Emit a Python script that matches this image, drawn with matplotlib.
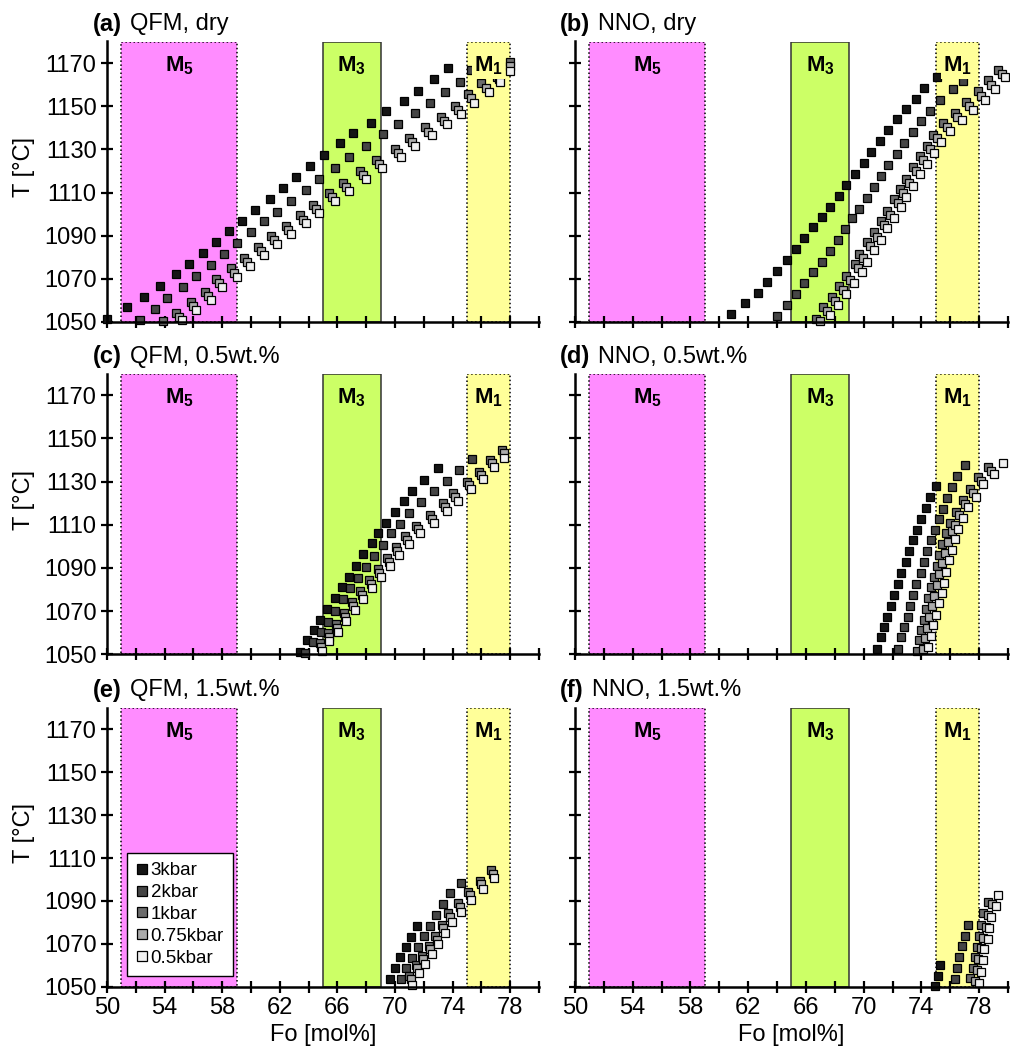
import matplotlib
matplotlib.use("Agg")
import matplotlib.pyplot as plt
from matplotlib.lines import Line2D
from matplotlib.ticker import MultipleLocator

plt.rcParams['font.family'] = ['Liberation Sans', 'DejaVu Sans']
plt.rcParams['mathtext.fontset'] = 'custom'
plt.rcParams['mathtext.rm'] = 'Liberation Sans'
plt.rcParams['mathtext.bf'] = 'Liberation Sans:bold'

# ---- data: Fo [mol%] and T [C] ----
pressures = ['3kbar', '2kbar', '1kbar', '0.75kbar', '0.5kbar']
fills = ['#151515', '#454545', '#6c6c6c', '#ababab', '#f0f0f0']

# (a) QFM, dry
a_fo_3 = [50.0, 51.4, 52.6, 53.7, 54.8, 55.7, 56.7, 57.6, 58.5, 59.4, 60.3, 61.3, 62.2, 63.1, 64.1, 65.1, 66.2, 67.1, 68.3, 69.4, 70.6, 71.6, 72.7, 73.7]
a_t_3 = [1051.2, 1057.0, 1061.8, 1066.6, 1072.2, 1076.9, 1082.0, 1087.3, 1092.4, 1097.0, 1101.7, 1107.1, 1112.1, 1117.2, 1122.2, 1127.6, 1132.8, 1137.4, 1142.4, 1147.8, 1152.5, 1157.1, 1162.4, 1167.6]
a_fo_2 = [52.3, 53.3, 54.2, 55.3, 56.2, 57.2, 58.1, 59.0, 60.0, 60.9, 61.8, 62.8, 63.8, 64.7, 65.8, 66.8, 68.0, 69.2, 70.2, 71.4, 72.4, 73.5, 74.5, 75.3]
a_t_2 = [1050.8, 1055.9, 1060.9, 1066.0, 1071.3, 1076.4, 1081.5, 1086.5, 1091.9, 1096.6, 1101.2, 1105.9, 1111.3, 1116.1, 1121.4, 1126.6, 1131.7, 1137.0, 1141.8, 1146.7, 1151.4, 1156.4, 1161.4, 1166.9]
a_fo_1 = [53.9, 54.8, 55.8, 56.8, 57.6, 58.6, 59.5, 60.5, 61.4, 62.4, 63.4, 64.3, 65.4, 66.4, 67.6, 68.7, 70.0, 71.0, 72.1, 73.2, 74.2, 75.1, 76.0, 77.1, 78.0]
a_t_1 = [1050.5, 1054.3, 1059.3, 1064.0, 1069.9, 1074.8, 1079.5, 1084.6, 1090.0, 1094.7, 1099.4, 1104.3, 1109.8, 1114.4, 1119.9, 1125.0, 1130.4, 1135.4, 1140.3, 1144.8, 1150.2, 1155.5, 1160.7, 1163.5, 1170.7]
a_fo_075 = [55.0, 56.0, 57.0, 57.8, 58.8, 59.7, 60.7, 61.6, 62.6, 63.6, 64.5, 65.6, 66.6, 67.8, 68.9, 70.2, 71.2, 72.3, 73.4, 74.4, 75.3, 76.3, 77.2, 78.0]
a_t_075 = [1052.4, 1057.4, 1062.1, 1068.0, 1072.9, 1077.6, 1082.7, 1088.1, 1092.8, 1097.5, 1102.4, 1107.9, 1112.5, 1118.0, 1123.1, 1128.5, 1133.5, 1138.2, 1143.1, 1148.2, 1153.7, 1158.6, 1162.4, 1168.7]
a_fo_05 = [55.2, 56.2, 57.2, 58.0, 59.0, 59.9, 60.9, 61.8, 62.8, 63.8, 64.7, 65.8, 66.8, 68.0, 69.1, 70.4, 71.4, 72.6, 73.6, 74.6, 75.5, 76.5, 77.3, 78.0]
a_t_05 = [1050.8, 1055.5, 1060.3, 1066.2, 1071.0, 1075.8, 1080.9, 1086.3, 1091.0, 1095.7, 1100.6, 1106.0, 1110.6, 1116.2, 1121.3, 1126.7, 1131.6, 1136.6, 1141.6, 1146.4, 1151.4, 1156.5, 1161.2, 1166.4]

# (b) NNO, dry
b_fo_3 = [60.8, 61.8, 62.7, 63.3, 64.0, 64.7, 65.3, 65.9, 66.5, 67.1, 67.7, 68.3, 68.8, 69.4, 70.0, 70.5, 71.1, 71.7, 72.3, 72.9, 73.6, 74.2, 75.1]
b_t_3 = [1053.8, 1058.8, 1063.5, 1068.6, 1073.5, 1078.8, 1083.8, 1088.8, 1093.8, 1098.6, 1103.4, 1108.5, 1113.5, 1118.8, 1123.7, 1128.8, 1133.8, 1138.8, 1144.0, 1148.6, 1153.5, 1158.5, 1163.4]
b_fo_2 = [64.0, 64.7, 65.3, 65.9, 66.5, 67.1, 67.7, 68.2, 68.7, 69.2, 69.7, 70.2, 70.7, 71.2, 71.7, 72.3, 72.8, 73.4, 74.0, 74.6, 75.3, 76.2, 76.9]
b_t_2 = [1052.6, 1058.0, 1063.1, 1068.0, 1073.1, 1078.0, 1083.1, 1088.2, 1093.1, 1098.0, 1102.6, 1107.4, 1112.6, 1117.7, 1122.8, 1128.0, 1132.9, 1138.0, 1143.1, 1148.0, 1153.1, 1158.0, 1161.8]
b_fo_1 = [66.7, 67.2, 67.8, 68.3, 68.8, 69.4, 69.7, 70.2, 70.7, 71.2, 71.6, 72.1, 72.5, 72.9, 73.4, 73.9, 74.4, 74.8, 75.5, 76.3, 77.1, 77.9, 78.6, 79.3]
b_t_1 = [1051.5, 1056.9, 1061.5, 1066.6, 1071.5, 1076.9, 1081.5, 1086.9, 1091.5, 1096.9, 1101.5, 1106.9, 1111.5, 1116.5, 1122.0, 1126.9, 1131.8, 1136.6, 1142.3, 1146.9, 1151.8, 1156.9, 1162.0, 1166.6]
b_fo_075 = [67.0, 67.45, 68.0, 68.55, 69.05, 69.6, 69.95, 70.45, 70.95, 71.4, 71.85, 72.35, 72.7, 73.15, 73.6, 74.1, 74.6, 75.05, 75.75, 76.5, 77.3, 78.1, 78.8, 79.55]
b_t_075 = [1050.3, 1055.0, 1059.6, 1064.7, 1069.6, 1075.0, 1079.6, 1085.0, 1089.6, 1095.0, 1099.6, 1105.0, 1109.6, 1114.6, 1120.0, 1125.0, 1130.0, 1135.1, 1140.3, 1145.1, 1149.9, 1154.9, 1160.0, 1164.9]
b_fo_05 = [67.7, 68.25, 68.8, 69.3, 69.85, 70.2, 70.7, 71.2, 71.65, 72.1, 72.6, 72.95, 73.45, 73.9, 74.4, 74.9, 75.35, 76.0, 76.8, 77.6, 78.4, 79.1, 79.8]
b_t_05 = [1053.4, 1058.0, 1063.0, 1068.0, 1073.4, 1078.0, 1083.4, 1088.0, 1093.4, 1098.0, 1103.4, 1108.0, 1113.1, 1118.4, 1123.4, 1128.4, 1133.4, 1138.7, 1143.5, 1148.1, 1153.0, 1158.1, 1163.4]

# (c) QFM, 0.5 wt.%
c_fo_3 = [63.4, 63.9, 64.4, 64.8, 65.3, 65.8, 66.3, 66.8, 67.3, 67.8, 68.4, 68.8, 69.4, 70.0, 70.6, 71.2, 72.0, 73.0]
c_t_3 = [1051.2, 1056.4, 1061.2, 1065.9, 1070.8, 1076.2, 1081.0, 1085.9, 1090.9, 1096.3, 1101.4, 1106.2, 1110.8, 1116.0, 1120.9, 1125.7, 1130.7, 1136.1]
c_fo_2 = [63.75, 64.3, 64.85, 65.35, 65.85, 66.4, 66.9, 67.45, 68.0, 68.55, 69.15, 69.7, 70.35, 71.0, 71.8, 72.7, 73.6, 74.45, 75.35]
c_t_2 = [1050.7, 1055.8, 1060.2, 1064.8, 1070.2, 1075.4, 1080.5, 1085.4, 1090.5, 1095.5, 1100.6, 1106.0, 1110.2, 1115.2, 1120.3, 1125.6, 1130.2, 1135.3, 1140.2]
c_fo_1 = [64.8, 65.35, 65.9, 66.45, 67.0, 67.6, 68.2, 68.8, 69.45, 70.05, 70.7, 71.45, 72.4, 73.35, 74.05, 75.0, 75.8, 76.6, 77.45]
c_t_1 = [1055.1, 1060.0, 1064.0, 1069.3, 1074.3, 1079.4, 1084.4, 1089.5, 1094.7, 1099.8, 1104.9, 1109.5, 1114.5, 1119.9, 1124.5, 1129.9, 1134.5, 1139.9, 1144.5]
c_fo_075 = [64.85, 65.4, 65.95, 66.55, 67.1, 67.7, 68.3, 68.9, 69.55, 70.15, 70.85, 71.6, 72.55, 73.5, 74.2, 75.15, 75.95, 76.75, 77.55]
c_t_075 = [1053.4, 1058.2, 1062.2, 1067.5, 1072.5, 1077.6, 1082.6, 1087.7, 1092.9, 1098.0, 1103.1, 1107.8, 1112.8, 1118.3, 1122.9, 1128.3, 1133.0, 1138.4, 1143.0]
c_fo_05 = [64.9, 65.45, 66.05, 66.6, 67.2, 67.8, 68.4, 69.0, 69.65, 70.3, 71.0, 71.75, 72.7, 73.6, 74.35, 75.25, 76.1, 76.9, 77.6]
c_t_05 = [1051.5, 1056.3, 1060.4, 1065.6, 1070.6, 1075.7, 1080.7, 1085.8, 1091.0, 1096.2, 1101.2, 1106.0, 1111.0, 1116.5, 1121.1, 1126.5, 1131.1, 1136.5, 1141.1]

# (d) NNO, 0.5 wt.%
d_fo_3 = [70.9, 71.2, 71.4, 71.65, 71.9, 72.1, 72.4, 72.6, 72.9, 73.15, 73.4, 73.7, 74.0, 74.3, 74.6, 75.0]
d_t_3 = [1052.5, 1057.9, 1062.5, 1067.4, 1072.5, 1077.4, 1082.4, 1087.5, 1092.9, 1097.9, 1102.9, 1107.5, 1112.5, 1117.6, 1122.7, 1127.9]
d_fo_2 = [72.35, 72.6, 72.8, 73.05, 73.2, 73.45, 73.65, 73.95, 74.15, 74.4, 74.65, 74.95, 75.2, 75.5, 75.8, 76.15, 76.5, 77.05]
d_t_2 = [1052.5, 1057.9, 1062.5, 1067.4, 1072.5, 1077.4, 1082.4, 1087.5, 1092.9, 1097.9, 1102.9, 1107.5, 1112.5, 1117.1, 1122.2, 1127.3, 1132.5, 1137.6]
d_fo_1 = [73.7, 73.85, 74.0, 74.15, 74.3, 74.45, 74.65, 74.85, 75.05, 75.25, 75.45, 75.7, 76.0, 76.4, 76.85, 77.35, 77.93, 78.58]
d_t_1 = [1051.5, 1056.6, 1061.2, 1066.0, 1071.0, 1076.0, 1081.0, 1086.0, 1091.0, 1096.0, 1101.0, 1106.0, 1111.0, 1116.0, 1121.4, 1126.4, 1131.9, 1136.8]
d_fo_075 = [74.1, 74.25, 74.4, 74.55, 74.75, 74.9, 75.1, 75.25, 75.45, 75.65, 75.85, 76.1, 76.35, 76.6, 77.05, 77.55, 78.1, 78.8]
d_t_075 = [1052.5, 1057.5, 1062.4, 1067.1, 1072.3, 1077.1, 1082.0, 1087.1, 1092.3, 1097.1, 1102.1, 1106.9, 1109.9, 1114.5, 1119.7, 1124.5, 1130.3, 1135.0]
d_fo_05 = [74.45, 74.65, 74.8, 75.0, 75.2, 75.4, 75.55, 75.7, 75.9, 76.1, 76.3, 76.55, 76.85, 77.25, 77.75, 78.3, 79.0, 79.65]
d_t_05 = [1053.5, 1058.5, 1063.6, 1068.2, 1073.6, 1078.2, 1083.1, 1088.2, 1093.6, 1098.3, 1103.2, 1107.8, 1112.9, 1118.0, 1122.9, 1128.7, 1133.3, 1138.4]

# (e) QFM, 1.5 wt.%
e_fo_3 = [69.65, 70.0, 70.35, 70.75, 71.1, 71.5]
e_t_3 = [1053.6, 1058.6, 1063.7, 1068.7, 1073.4, 1078.3]
e_fo_2 = [70.4, 70.75, 71.15, 71.6, 72.0, 72.45, 72.85, 73.3, 73.8, 74.55]
e_t_2 = [1053.6, 1058.6, 1063.5, 1068.4, 1073.6, 1078.3, 1083.4, 1088.4, 1093.8, 1098.6]
e_fo_1 = [71.0, 71.45, 71.85, 72.35, 72.8, 73.25, 73.7, 74.4, 75.1, 75.9, 76.7]
e_t_1 = [1055.0, 1060.1, 1064.3, 1069.0, 1073.6, 1078.8, 1084.2, 1088.9, 1094.3, 1099.4, 1104.4]
e_fo_075 = [71.1, 71.55, 71.95, 72.45, 72.9, 73.35, 73.8, 74.5, 75.2, 76.0, 76.8]
e_t_075 = [1053.4, 1058.5, 1062.7, 1067.4, 1072.0, 1077.2, 1082.6, 1087.3, 1092.7, 1097.8, 1102.8]
e_fo_05 = [71.2, 71.65, 72.05, 72.55, 73.0, 73.45, 73.95, 74.6, 75.3, 76.1, 76.9]
e_t_05 = [1050.8, 1056.2, 1060.4, 1065.1, 1069.7, 1074.9, 1080.3, 1085.0, 1090.4, 1095.5, 1100.5]

# (f) NNO, 1.5 wt.%
f_fo_3 = [74.95, 75.15, 75.3]
f_t_3 = [1050.3, 1055.0, 1060.1]
f_fo_2 = [76.35, 76.5, 76.6, 76.8, 77.0, 77.25]
f_t_2 = [1053.6, 1058.6, 1063.7, 1068.9, 1073.7, 1079.0]
f_fo_1 = [77.4, 77.6, 77.7, 77.85, 78.0, 78.15, 78.3, 78.6]
f_t_1 = [1053.9, 1058.6, 1063.7, 1068.4, 1073.6, 1078.8, 1084.2, 1089.3]
f_fo_075 = [77.7, 77.85, 77.95, 78.1, 78.3, 78.45, 78.6, 78.9]
f_t_075 = [1052.8, 1057.8, 1063.0, 1068.0, 1072.9, 1078.0, 1083.4, 1088.5]
f_fo_05 = [78.0, 78.1, 78.25, 78.35, 78.6, 78.7, 78.85, 79.15, 79.3]
f_t_05 = [1051.9, 1057.0, 1062.5, 1067.6, 1072.1, 1077.3, 1082.7, 1087.7, 1092.8]

# melt-inclusion host olivine ranges
zones = [('5', 51, 59, '#ff8cff', ':', 'black'),
         ('3', 65, 69, '#ccff66', '-', '#333333'),
         ('1', 75, 78, '#ffff99', ':', 'black')]

W, H = 1010, 1053
fig = plt.figure(figsize=(W / 100, H / 100), dpi=100)

cols = [(107, 539), (575, 1008)]
rows = [(41.5, 322), (373.5, 654.3), (708, 986.7)]

panels = [
    ('(a)', 'QFM, dry', [(a_fo_3, a_t_3), (a_fo_2, a_t_2), (a_fo_1, a_t_1), (a_fo_075, a_t_075), (a_fo_05, a_t_05)]),
    ('(b)', 'NNO, dry', [(b_fo_3, b_t_3), (b_fo_2, b_t_2), (b_fo_1, b_t_1), (b_fo_075, b_t_075), (b_fo_05, b_t_05)]),
    ('(c)', 'QFM, 0.5wt.%', [(c_fo_3, c_t_3), (c_fo_2, c_t_2), (c_fo_1, c_t_1), (c_fo_075, c_t_075), (c_fo_05, c_t_05)]),
    ('(d)', 'NNO, 0.5wt.%', [(d_fo_3, d_t_3), (d_fo_2, d_t_2), (d_fo_1, d_t_1), (d_fo_075, d_t_075), (d_fo_05, d_t_05)]),
    ('(e)', 'QFM, 1.5wt.%', [(e_fo_3, e_t_3), (e_fo_2, e_t_2), (e_fo_1, e_t_1), (e_fo_075, e_t_075), (e_fo_05, e_t_05)]),
    ('(f)', 'NNO, 1.5wt.%', [(f_fo_3, f_t_3), (f_fo_2, f_t_2), (f_fo_1, f_t_1), (f_fo_075, f_t_075), (f_fo_05, f_t_05)]),
]

renderer = fig.canvas.get_renderer()
axes = []
for i, (tag, desc, series) in enumerate(panels):
    r, c = divmod(i, 2)
    x0, x1 = cols[c]
    y0, y1 = rows[r]
    ax = fig.add_axes([x0 / W, 1 - y1 / H, (x1 - x0) / W, (y1 - y0) / H])
    axes.append(ax)
    ax.set_xlim(50, 80)
    ax.set_ylim(1050, 1180)

    for name, lo, hi, col, ls, ec in zones:
        ax.axvspan(lo, hi, facecolor=col, edgecolor=ec, linestyle=ls, lw=1.1, zorder=1)
        ax.text((lo + hi) / 2, 1169, r'$\mathbf{M}_\mathbf{%s}$' % name, ha='center', va='center',
                fontsize=16, zorder=6,
                bbox=dict(facecolor=col, edgecolor='none', pad=1.5))

    for (fo, t), fc, lab in zip(series, fills, pressures):
        ax.plot(fo, t, 's', ms=6.0, mfc=fc, mec='black', mew=0.9, ls='none',
                clip_on=False, zorder=4, label=lab)

    for s in ['top', 'right']:
        ax.spines[s].set_visible(False)
    for s in ['left', 'bottom']:
        ax.spines[s].set_linewidth(1.8)
        ax.spines[s].set_zorder(5)
    ax.set_xticks(range(50, 79, 4))
    ax.xaxis.set_minor_locator(MultipleLocator(2))
    ax.set_yticks(range(1050, 1171, 20))
    ax.tick_params(which='both', direction='inout', length=9, width=1.6,
                   labelsize=17, pad=3)
    ax.tick_params(labelbottom=(r == 2), labelleft=(c == 0))

    # panel title: bold tag + plain text
    tx = (93 if c == 0 else 560) / W
    ty = 1 - [24, 357, 690][r] / H
    t1 = fig.text(tx, ty, tag, fontsize=17, fontweight='bold', va='center', ha='left')
    bb = t1.get_window_extent(renderer)
    fig.text((bb.x1 + 8) / W, ty, desc, fontsize=17, va='center', ha='left')

    if c == 0:
        fig.text(24 / W, 1 - [167, 500, 833][r] / H, 'T [°C]', rotation=90,
                 fontsize=17, va='center', ha='center')
    if r == 2:
        fig.text((x0 + x1) / 2 / W, 1 - 1035 / H, 'Fo [mol%]', fontsize=17,
                 va='center', ha='center')

# legend in panel (e)
ax_e = axes[4]
handles = [Line2D([], [], marker='s', ls='none', ms=7.5, mfc=fc, mec='black', mew=0.9)
           for fc in fills]
leg = ax_e.legend(handles, pressures, loc='lower left', bbox_to_anchor=(51.4, 1055),
                  bbox_transform=ax_e.transData, borderaxespad=0, fontsize=13.5,
                  frameon=True, fancybox=False, framealpha=1, edgecolor='black',
                  handlelength=0.6, handletextpad=0.15, labelspacing=0.25,
                  borderpad=0.5)
leg.get_frame().set_linewidth(1.0)
leg.set_zorder(7)

fig.savefig('out.png', dpi=100)
